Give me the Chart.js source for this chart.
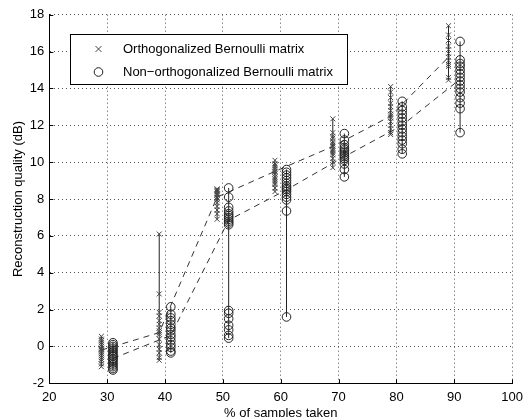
<!DOCTYPE html>
<html>
<head>
<meta charset="utf-8">
<title>Reconstruction quality</title>
<script src="https://cdn.jsdelivr.net/npm/chart.js@4.4.1/dist/chart.umd.min.js"></script>
<style>
  html, body { margin: 0; padding: 0; background: #fff; }
  #plot { display: block; }
</style>
</head>
<body>
<canvas id="plot" width="529" height="417"></canvas>
<script>
// Sampling ratios (%) where each matrix type was tested
const orthoPos = [29, 39, 49, 59, 69, 79, 89];
const nonOrthoPos = [31, 41, 51, 61, 71, 81, 91];

// Per-run reconstruction quality (dB), orthogonalized Bernoulli matrix
const orthoRuns = [
    [0.55, 0.4, 0.3, 0.2, 0.1, 0.0, -0.1, -0.15, -0.2, -0.3, -0.4, -0.5, -0.6, -0.7, -0.8, -0.95, -1.1],
    [6.1, 2.85, 1.85, 1.65, 1.4, 1.2, 1.0, 0.85, 0.75, 0.65, 0.4, 0.1, -0.15, -0.35, -0.6, -0.75],
    [8.55, 8.5, 8.45, 8.4, 8.3, 8.25, 8.2, 8.1, 8.05, 7.95, 7.8, 7.6, 7.4, 7.2, 6.9],
    [10.1, 9.9, 9.8, 9.7, 9.6, 9.5, 9.45, 9.35, 9.2, 9.1, 9.0, 8.9, 8.8, 8.6, 8.4],
    [12.35, 11.6, 11.4, 11.3, 11.1, 11.0, 10.9, 10.85, 10.7, 10.6, 10.5, 10.4, 10.2, 10.0, 9.7],
    [14.1, 13.8, 13.5, 13.2, 13.0, 12.8, 12.6, 12.5, 12.4, 12.2, 12.0, 11.8, 11.6, 11.5],
    [17.4, 16.9, 16.6, 16.3, 16.1, 15.9, 15.7, 15.5, 15.3, 15.2, 14.6, 14.45]
];

// Per-run reconstruction quality (dB), non-orthogonalized Bernoulli matrix
const nonOrthoRuns = [
    [0.2, 0.1, 0.0, -0.1, -0.2, -0.3, -0.4, -0.5, -0.55, -0.65, -0.7, -0.8, -0.9, -1.0, -1.1, -1.2, -1.28],
    [2.15, 1.75, 1.55, 1.4, 1.2, 1.0, 0.85, 0.65, 0.5, 0.3, 0.1, -0.05, -0.25, -0.35],
    [8.6, 8.1, 7.55, 7.35, 7.2, 7.1, 7.0, 6.9, 6.8, 6.7, 6.6, 1.95, 1.8, 1.5, 1.15, 0.9, 0.6, 0.45],
    [9.6, 9.45, 9.3, 9.15, 9.0, 8.85, 8.7, 8.6, 8.5, 8.4, 8.25, 8.1, 7.95, 7.35, 1.6],
    [11.55, 11.2, 10.95, 10.8, 10.7, 10.6, 10.5, 10.4, 10.3, 10.2, 10.1, 9.9, 9.6, 9.2],
    [13.3, 13.0, 12.8, 12.6, 12.4, 12.2, 12.0, 11.8, 11.6, 11.4, 11.2, 11.0, 10.7, 10.45],
    [16.55, 15.55, 15.35, 15.2, 15.0, 14.8, 14.6, 14.4, 14.2, 14.0, 13.8, 13.5, 13.2, 12.9, 11.6]
];

// Central value at each sampling ratio (dashed trend lines)
const orthoTrend = [-0.2, 0.75, 8.1, 9.5, 10.85, 12.5, 15.7];
const nonOrthoTrend = [-0.65, 0.6, 6.85, 8.5, 10.3, 12.0, 14.5];

const xTicks = [20, 30, 40, 50, 60, 70, 80, 90, 100];
const yTicks = [-2, 0, 2, 4, 6, 8, 10, 12, 14, 16, 18];

const FONT = '"Liberation Sans", Arial, sans-serif';
const INK = '#000';

function scatterPoints(pos, runs) {
    const pts = [];
    pos.forEach((x, i) => runs[i].forEach(y => pts.push({ x: x, y: y })));
    return pts;
}

// Solid whisker from lowest to highest run at each ratio
function rangeLines(pos, runs) {
    return pos.map((x, i) => ({
        type: 'line',
        data: [{ x: x, y: Math.min(...runs[i]) }, { x: x, y: Math.max(...runs[i]) }],
        borderColor: '#222',
        borderWidth: 1,
        pointRadius: 0,
        fill: false,
        order: 3
    }));
}

function trendLine(pos, vals) {
    return {
        type: 'line',
        data: pos.map((x, i) => ({ x: x, y: vals[i] })),
        borderColor: '#333',
        borderWidth: 1,
        borderDash: [6, 5],
        pointRadius: 0,
        fill: false,
        tension: 0,
        order: 2
    };
}

const orthoStyle = { pointStyle: 'crossRot', radius: 3.5, color: '#444' };
const nonOrthoStyle = { pointStyle: 'circle', radius: 4.3, color: '#222' };

const datasets = [
    {
        label: 'Orthogonalized Bernoulli matrix',
        data: scatterPoints(orthoPos, orthoRuns),
        pointStyle: orthoStyle.pointStyle,
        pointRadius: orthoStyle.radius,
        borderColor: orthoStyle.color,
        backgroundColor: 'rgba(0,0,0,0)',
        pointBorderWidth: 1,
        showLine: false,
        order: 0
    },
    {
        label: 'Non\u2212orthogonalized Bernoulli matrix',
        data: scatterPoints(nonOrthoPos, nonOrthoRuns),
        pointStyle: nonOrthoStyle.pointStyle,
        pointRadius: nonOrthoStyle.radius,
        borderColor: nonOrthoStyle.color,
        backgroundColor: 'rgba(0,0,0,0)',
        pointBorderWidth: 1,
        showLine: false,
        order: 1
    },
    trendLine(orthoPos, orthoTrend),
    trendLine(nonOrthoPos, nonOrthoTrend),
    ...rangeLines(orthoPos, orthoRuns),
    ...rangeLines(nonOrthoPos, nonOrthoRuns)
];

function drawMarker(ctx, style, x, y) {
    ctx.save();
    ctx.strokeStyle = style.color;
    ctx.lineWidth = 1;
    ctx.beginPath();
    if (style.pointStyle === 'circle') {
        ctx.arc(x, y, style.radius, 0, Math.PI * 2);
    } else {
        const r = style.radius * Math.SQRT1_2 * 1.2;
        ctx.moveTo(x - r, y - r); ctx.lineTo(x + r, y + r);
        ctx.moveTo(x - r, y + r); ctx.lineTo(x + r, y - r);
    }
    ctx.stroke();
    ctx.restore();
}

// Inward ticks, axis titles and the boxed legend
const axesDecor = {
    id: 'axesDecor',
    afterDraw(chart) {
        const ctx = chart.ctx;
        const area = chart.chartArea;
        const xs = chart.scales.x, ys = chart.scales.y;
        ctx.save();
        ctx.strokeStyle = INK;
        ctx.lineWidth = 1;
        ctx.beginPath();
        yTicks.forEach(v => {
            const py = Math.round(ys.getPixelForValue(v)) + 0.5;
            ctx.moveTo(area.left, py); ctx.lineTo(area.left + 4, py);
        });
        xTicks.forEach(v => {
            const px = Math.round(xs.getPixelForValue(v)) + 0.5;
            ctx.moveTo(px, area.bottom); ctx.lineTo(px, area.bottom - 4);
        });
        ctx.stroke();

        ctx.fillStyle = INK;
        ctx.font = '13px ' + FONT;
        ctx.textAlign = 'center';
        ctx.textBaseline = 'middle';
        ctx.save();
        ctx.translate(18, (area.top + area.bottom) / 2);
        ctx.rotate(-Math.PI / 2);
        ctx.fillText('Reconstruction quality (dB)', 0, 0);
        ctx.restore();
        ctx.textBaseline = 'top';
        ctx.fillText('% of samples taken', (area.left + area.right) / 2, 407);

        // legend
        const box = { x: 70.5, y: 34.5, w: 277, h: 50 };
        ctx.fillStyle = '#fff';
        ctx.fillRect(box.x, box.y, box.w, box.h);
        ctx.strokeStyle = INK;
        ctx.strokeRect(box.x, box.y, box.w, box.h);
        const rows = [
            { style: orthoStyle, text: datasets[0].label, y: 49 },
            { style: nonOrthoStyle, text: datasets[1].label, y: 72 }
        ];
        ctx.fillStyle = INK;
        ctx.textAlign = 'left';
        ctx.textBaseline = 'middle';
        rows.forEach(r => {
            drawMarker(ctx, r.style, 98.5, r.y);
            ctx.fillText(r.text, 123, r.y);
        });
        ctx.restore();
    }
};

new Chart(document.getElementById('plot'), {
    type: 'scatter',
    data: { datasets: datasets },
    options: {
        responsive: false,
        animation: false,
        devicePixelRatio: 1,
        events: [],
        layout: { padding: { top: 14.7, right: 11.3, left: 0, bottom: 0 } },
        plugins: {
            legend: { display: false },
            tooltip: { enabled: false }
        },
        scales: {
            x: {
                type: 'linear',
                min: 20,
                max: 100,
                afterBuildTicks: s => { s.ticks = xTicks.map(v => ({ value: v })); },
                afterFit: s => { s.height = 33.7; },
                grid: { color: '#555', drawTicks: false },
                border: { display: true, color: INK, width: 1, dash: [1, 3] },
                ticks: { color: INK, font: { family: FONT, size: 13 }, padding: 6, maxRotation: 0 }
            },
            y: {
                type: 'linear',
                min: -2,
                max: 18,
                afterBuildTicks: s => { s.ticks = yTicks.map(v => ({ value: v })); },
                afterFit: s => { s.width = 49.3; },
                grid: { color: '#555', drawTicks: false },
                border: { display: true, color: INK, width: 1, dash: [1, 3] },
                ticks: { color: INK, font: { family: FONT, size: 13 }, padding: 5 }
            }
        }
    },
    plugins: [axesDecor]
});
</script>
</body>
</html>
